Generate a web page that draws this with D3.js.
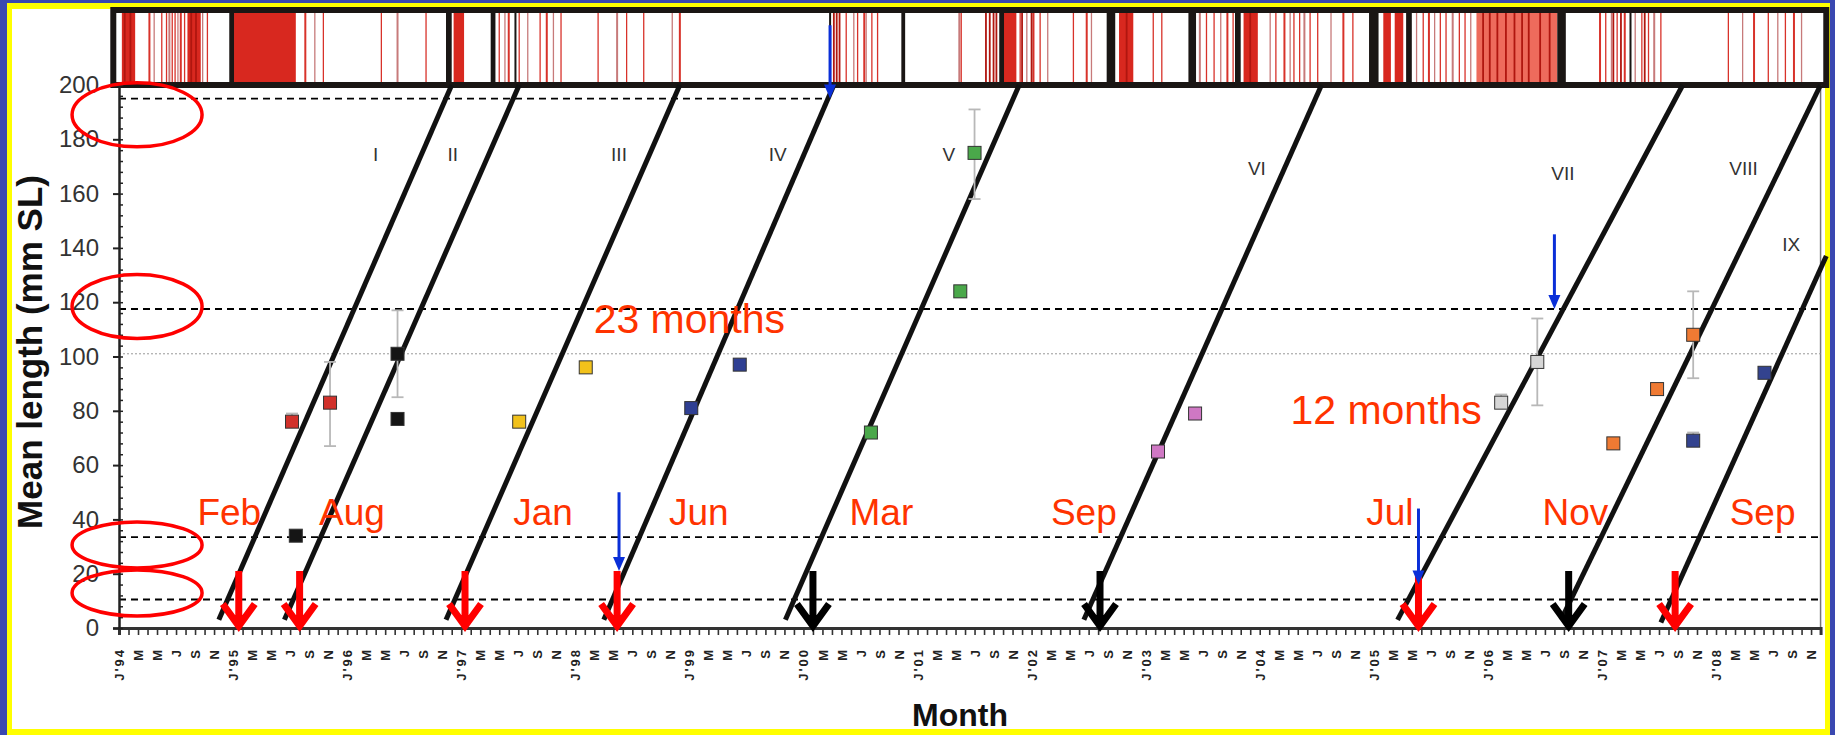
<!DOCTYPE html>
<html>
<head>
<meta charset="utf-8">
<script src="https://cdn.jsdelivr.net/npm/d3@7"></script>
<style>
  html, body { margin: 0; padding: 0; background: #3a48b0; }
  svg { display: block; font-family: "Liberation Sans", Arial, sans-serif; }
</style>
</head>
<body>
<svg id="chart" width="1835" height="735"></svg>
<script>
// Cohort growth lines vs month (Jan'94 = month 0), with spawning events strip on top.

const MONTH_LETTERS = ["J", "M", "M", "J", "S", "N"];   // every second month
const FIRST_YEAR = 1994;
const N_MONTHS = 180;

// cohort lines: month where length ~3 mm, month where length reaches 200 mm
const COHORTS = ["I", "II", "III", "IV", "V", "VI", "VII", "VIII", "IX"];
const LINE_START = [[10.5, 3], [17.4, 3], [34.4, 3], [51.0, 3], [70.1, 3], [101.5, 3], [134.5, 3], [151.7, 3], [162.2, 2]];
const LINE_END = [[35.0, 200], [42.1, 200], [59.0, 200], [75.2, 200], [94.7, 200], [126.5, 200], [164.5, 200], [179.0, 200], [179.6, 137]];
const LABEL_POS = [[27, 172], [35.1, 172], [52.6, 172], [69.3, 172], [87.3, 172], [119.7, 167], [151.9, 165], [170.9, 167], [175.9, 139]];

// mean lengths: cohort, month, value, error low, error high
const PT_COHORT = ["I", "I", "II", "II", "II", "III", "III", "IV", "IV", "V", "V", "V", "VI", "VI", "VII", "VII", "VIII", "VIII", "VIII", "IX", "IX"];
const PT_MONTH = [18.2, 22.2, 18.6, 29.3, 29.3, 42.1, 49.1, 60.2, 65.3, 79.1, 88.5, 90.0, 109.3, 113.2, 145.4, 149.2, 157.2, 161.8, 165.6, 165.6, 173.1];
const PT_VALUE = [76, 83, 34, 77, 101, 76, 96, 81, 97, 72, 124, 175, 65, 79, 83, 98, 68, 88, 108, 69, 94];
const PT_LOW = [74, 67, 33, 76, 85, 74, 95, 80, 96, 70, 122, 158, 63, 78, 81, 82, 66, 87, 92, 67, 93];
const PT_HIGH = [79, 98, 35, 78, 117, 78, 97, 82, 98, 74, 126, 191, 67, 80, 86, 114, 70, 90, 124, 72, 95];
const COHORT_COLOR = {
  I: "#d1312b", II: "#151515", III: "#f2c21b", IV: "#2f3f93", V: "#4aa84a",
  VI: "#cf78c4", VII: "#d6d6d6", VIII: "#ef7a33", IX: "#33438f"
};

// reference levels (mm)
const DASH_LEVELS = [195, 117.5, 33.5, 10.5];
const DASH_END = [74.8, 179, 179, 179];
const DOT_LEVEL = 101;

// spawning arrows (month)
const RED_ARROWS = [12.6, 19.0, 36.4, 52.4, 136.7, 163.7];
const BLACK_ARROWS = [73.0, 103.2, 152.5];
const MONTH_NOTES = ["Feb", "Aug", "Jan", "Jun", "Mar", "Sep", "Jul", "Nov", "Sep"];
const MONTH_NOTE_POS = [11.6, 24.5, 44.6, 61.0, 80.2, 101.5, 133.7, 153.2, 172.9];
const SPAN_NOTES = [["23 months", 60, 108.5], ["12 months", 133.3, 75.3]];

// blue arrows: month, length from, length to
const BLUE_ARROWS = [[74.8, 222, 195], [151.0, 145, 117.5], [52.6, 50, 21], [136.7, 44, 16]];

// red ellipses round the reference levels: month, length
const ELLIPSES = [[1.9, 189], [1.9, 118.4], [1.9, 30.6], [1.9, 12.9]];

// spawning strip (months)
const STRIP_RANGE = [-0.6, 179.6];
const RED_BLOCKS = [[0.3, 1.7], [7.2, 8.6], [12.1, 18.6], [35.2, 36.3], [93.1, 94.4], [105.2, 106.7], [118.3, 119.8], [133.0, 133.8], [134.2, 135.1]];
const PINK_BLOCKS = [[142.8, 151.3]];
const BLACK_BARS = [[11.6, 12.1], [34.4, 35.0], [39.1, 39.6], [41.6, 41.8], [74.7, 74.9], [82.3, 82.7], [92.6, 93.1], [103.9, 104.8], [112.5, 113.3], [117.4, 118.0], [131.5, 132.5], [135.4, 136.0], [151.3, 152.2], [158.9, 159.1]];
const RED_LINES = [3.2, 3.7, 4.5, 5.0, 5.3, 5.6, 5.9, 6.2, 6.5, 6.9, 8.8, 9.3, 19.6, 20.6, 21.5, 27.6, 29.3, 32.3, 40.0, 40.6, 41.0, 42.1, 43.0, 44.3, 45.0, 45.7, 46.5, 50.4, 52.4, 53.4, 55.2, 58.2, 59.0, 76.5, 77.3, 77.7, 78.4, 78.6, 79.2, 79.8, 88.4, 88.6, 94.8, 95.5, 96.2, 96.9, 97.7, 100.4, 101.8, 102.3, 108.8, 109.7, 113.7, 114.4, 115.2, 115.9, 116.6, 117.2, 121.1, 121.7, 122.6, 123.2, 123.6, 124.2, 124.7, 125.3, 126.1, 127.5, 128.8, 129.8, 136.5, 137.2, 137.8, 138.4, 139.0, 139.6, 140.3, 141.0, 141.6, 142.2, 155.8, 156.4, 157.0, 157.6, 158.4, 159.5, 160.2, 160.9, 161.5, 162.2, 169.3, 170.8, 172.0, 173.5, 174.5, 175.3, 176.2, 177.0];
const DARK_LINES = [0.6, 1.2, 7.6, 8.1, 75.2, 75.5, 75.8, 91.2, 91.6, 92.0, 92.3, 95.0, 96.0, 106.0, 119.0, 143.5, 144.2, 145.0, 145.9, 146.8, 147.6, 148.3, 149.5, 150.5, 157.2, 158.0, 160.5];

const W = 1835, H = 735;
const svg = d3.select("#chart");

const x = d3.scaleLinear().domain([0, N_MONTHS - 1]).range([119, 119 + (N_MONTHS - 1) * 9.506]);
const y = d3.scaleLinear().domain([0, 200]).range([628, 85]);

// frame: blue outside, yellow band, white page
svg.append("rect").attr("width", W).attr("height", H).attr("fill", "#3a48b0");
svg.append("rect").attr("x", 7).attr("y", 3).attr("width", 1823).attr("height", 740).attr("fill", "#ffff00");
svg.append("rect").attr("x", 12).attr("y", 9).attr("width", 1813).attr("height", 720).attr("fill", "#ffffff");

// spawning strip
const stripTop = 10, stripBot = 85;
const strip = svg.append("g");
strip.selectAll("rect.blk").data(RED_BLOCKS).join("rect")
  .attr("x", (d) => x(d[0])).attr("width", (d) => x(d[1]) - x(d[0]))
  .attr("y", stripTop).attr("height", stripBot - stripTop).attr("fill", "#d8281f");
strip.selectAll("rect.pnk").data(PINK_BLOCKS).join("rect")
  .attr("x", (d) => x(d[0])).attr("width", (d) => x(d[1]) - x(d[0]))
  .attr("y", stripTop).attr("height", stripBot - stripTop).attr("fill", "#ee6b5c");
strip.selectAll("line.red").data(RED_LINES).join("line")
  .attr("x1", (d) => x(d)).attr("x2", (d) => x(d))
  .attr("y1", stripTop).attr("y2", stripBot)
  .attr("stroke", (d, i) => i % 3 === 1 ? "#c77a7a" : "#d8322a")
  .attr("stroke-width", (d, i) => i % 4 === 0 ? 2 : 1.3);
strip.selectAll("line.dark").data(DARK_LINES).join("line")
  .attr("x1", (d) => x(d)).attr("x2", (d) => x(d))
  .attr("y1", stripTop).attr("y2", stripBot)
  .attr("stroke", "#b0160f").attr("stroke-width", 1.8);
strip.selectAll("rect.sep").data(BLACK_BARS).join("rect")
  .attr("x", (d) => x(d[0])).attr("width", (d) => Math.max(2, x(d[1]) - x(d[0])))
  .attr("y", stripTop).attr("height", stripBot - stripTop).attr("fill", "#1a1614");
strip.append("rect")
  .attr("x", x(STRIP_RANGE[0])).attr("y", stripTop)
  .attr("width", x(STRIP_RANGE[1]) - x(STRIP_RANGE[0])).attr("height", stripBot - stripTop)
  .attr("fill", "none").attr("stroke", "#1a1614").attr("stroke-width", 6);

// plot right border
svg.append("line").attr("x1", x(N_MONTHS - 1)).attr("x2", x(N_MONTHS - 1))
  .attr("y1", y(200)).attr("y2", y(0)).attr("stroke", "#777").attr("stroke-width", 1.5);

// reference levels
svg.append("line").attr("x1", x(0)).attr("x2", x(N_MONTHS - 1))
  .attr("y1", y(DOT_LEVEL)).attr("y2", y(DOT_LEVEL))
  .attr("stroke", "#999").attr("stroke-width", 1).attr("stroke-dasharray", "2,2");
svg.selectAll("line.lvl").data(DASH_LEVELS).join("line")
  .attr("x1", x(0)).attr("x2", (d, i) => x(DASH_END[i]))
  .attr("y1", (d) => y(d)).attr("y2", (d) => y(d))
  .attr("stroke", "#000").attr("stroke-width", 1.8).attr("stroke-dasharray", "7,5");

// axes
const xAxis = d3.axisBottom(x)
  .tickValues(d3.range(0, N_MONTHS))
  .tickSize(7)
  .tickFormat((m) => {
    if (m % 2) return "";
    if (m % 12 === 0) return "J'" + String(FIRST_YEAR + m / 12).slice(2);
    return MONTH_LETTERS[(m % 12) / 2];
  });
const gx = svg.append("g").attr("transform", "translate(0," + y(0) + ")").call(xAxis);
gx.select(".domain").attr("stroke", "#333").attr("stroke-width", 3);
gx.selectAll(".tick line").attr("stroke", "#333").attr("stroke-width", 1.6);
gx.selectAll(".tick text")
  .attr("transform", "rotate(-90)")
  .attr("x", -20).attr("y", 0).attr("dy", "0.35em")
  .attr("text-anchor", "end")
  .attr("font-size", 13).attr("font-weight", "bold").attr("letter-spacing", 2)
  .attr("fill", "#222");

const yAxis = d3.axisLeft(y).tickValues(d3.range(0, 201, 20)).tickSize(6).tickPadding(14);
const gy = svg.append("g").attr("transform", "translate(" + x(0) + ",0)").call(yAxis);
gy.select(".domain").attr("stroke", "#222").attr("stroke-width", 2.5);
gy.selectAll(".tick line").attr("stroke", "#222").attr("stroke-width", 2);
gy.selectAll(".tick text").attr("font-size", 24).attr("fill", "#333");
const gyMinor = svg.append("g").attr("transform", "translate(" + x(0) + ",0)")
  .call(d3.axisRight(y).tickValues(d3.range(0, 201, 4)).tickSize(4).tickFormat(""));
gyMinor.select(".domain").remove();
gyMinor.selectAll(".tick line").attr("stroke", "#222").attr("stroke-width", 1.5);

// axis titles
svg.append("text")
  .attr("transform", "translate(42," + 352 + ") rotate(-90)")
  .attr("text-anchor", "middle").attr("font-size", 35).attr("font-weight", "bold").attr("fill", "#111")
  .text("Mean length (mm SL)");
svg.append("text")
  .attr("x", 960).attr("y", 726)
  .attr("text-anchor", "middle").attr("font-size", 32).attr("font-weight", "bold").attr("fill", "#111")
  .text("Month");

// cohort growth lines
svg.selectAll("line.cohort").data(COHORTS).join("line")
  .attr("x1", (d, i) => x(LINE_START[i][0])).attr("y1", (d, i) => y(LINE_START[i][1]))
  .attr("x2", (d, i) => x(LINE_END[i][0])).attr("y2", (d, i) => y(LINE_END[i][1]))
  .attr("stroke", "#111").attr("stroke-width", 5);
svg.selectAll("text.cohort").data(COHORTS).join("text")
  .attr("x", (d, i) => x(LABEL_POS[i][0])).attr("y", (d, i) => y(LABEL_POS[i][1]))
  .attr("text-anchor", "middle").attr("font-size", 19).attr("fill", "#333")
  .text((d) => d);

// error bars + squares
const pts = PT_MONTH.map((m, i) => ({ m, v: PT_VALUE[i], lo: PT_LOW[i], hi: PT_HIGH[i], c: PT_COHORT[i] }));
const ebar = svg.append("g").attr("stroke", "#b8b8b8").attr("stroke-width", 1.8);
ebar.selectAll("line.v").data(pts).join("line")
  .attr("x1", (d) => x(d.m)).attr("x2", (d) => x(d.m))
  .attr("y1", (d) => y(d.lo)).attr("y2", (d) => y(d.hi));
ebar.selectAll("line.top").data(pts).join("line")
  .attr("x1", (d) => x(d.m) - 6).attr("x2", (d) => x(d.m) + 6)
  .attr("y1", (d) => y(d.hi)).attr("y2", (d) => y(d.hi));
ebar.selectAll("line.bot").data(pts).join("line")
  .attr("x1", (d) => x(d.m) - 6).attr("x2", (d) => x(d.m) + 6)
  .attr("y1", (d) => y(d.lo)).attr("y2", (d) => y(d.lo));
svg.selectAll("rect.pt").data(pts).join("rect")
  .attr("x", (d) => x(d.m) - 6.5).attr("y", (d) => y(d.v) - 6.5)
  .attr("width", 13).attr("height", 13)
  .attr("fill", (d) => COHORT_COLOR[d.c]).attr("stroke", "#333").attr("stroke-width", 1);

// spawning arrows
const arrowPath = (m) => {
  const ax = x(m), tip = y(0), top = y(21);
  return "M" + ax + "," + top + "V" + (tip - 4) +
    "M" + (ax - 16) + "," + (tip - 24) + "L" + ax + "," + (tip - 2) + "L" + (ax + 16) + "," + (tip - 24);
};
svg.selectAll("path.red").data(RED_ARROWS).join("path")
  .attr("d", arrowPath).attr("fill", "none").attr("stroke", "#ff0000")
  .attr("stroke-width", 7).attr("stroke-linejoin", "miter");
svg.selectAll("path.black").data(BLACK_ARROWS).join("path")
  .attr("d", arrowPath).attr("fill", "none").attr("stroke", "#000")
  .attr("stroke-width", 7).attr("stroke-linejoin", "miter");

// blue arrows
BLUE_ARROWS.forEach(([m, from, to]) => {
  const ax = x(m), y1 = y(from), y2 = y(to);
  svg.append("line").attr("x1", ax).attr("x2", ax).attr("y1", y1).attr("y2", y2 - 12)
    .attr("stroke", "#0a2fd8").attr("stroke-width", 3);
  svg.append("path").attr("d", "M" + (ax - 6) + "," + (y2 - 14) + "L" + ax + "," + y2 + "L" + (ax + 6) + "," + (y2 - 14) + "Z")
    .attr("fill", "#0a2fd8");
});

// month notes
svg.selectAll("text.note").data(MONTH_NOTES).join("text")
  .attr("x", (d, i) => x(MONTH_NOTE_POS[i])).attr("y", y(38))
  .attr("text-anchor", "middle").attr("font-size", 37).attr("fill", "#ff3300")
  .text((d) => d);
svg.selectAll("text.span").data(SPAN_NOTES).join("text")
  .attr("x", (d) => x(d[1])).attr("y", (d) => y(d[2]))
  .attr("text-anchor", "middle").attr("font-size", 41).attr("fill", "#ff3300")
  .text((d) => d[0]);

// red ellipses
svg.selectAll("ellipse").data(ELLIPSES).join("ellipse")
  .attr("cx", (d) => x(d[0])).attr("cy", (d) => y(d[1]))
  .attr("rx", 65).attr("ry", (d, i) => i < 2 ? 32 : 23)
  .attr("fill", "none").attr("stroke", "#ff0000").attr("stroke-width", 3.5);

// bottom band
svg.append("rect").attr("x", 7).attr("y", 729).attr("width", 1823).attr("height", 6).attr("fill", "#ffff00");
</script>
</body>
</html>
